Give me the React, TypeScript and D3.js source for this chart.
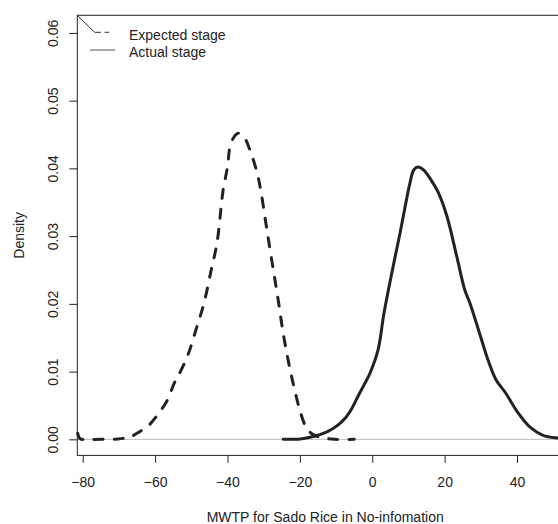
import React, { useEffect, useRef } from "react";
import * as d3 from "d3";

// density estimates
const expectedX = [-81.4, -80.7, -78, -74.4, -70.2, -68.3, -66.3, -64.4, -61.7, -59.2, -56.7, -54.8, -53.1, -50.9, -48.7, -46.5, -44.5, -42.9, -41.2, -40.0, -39.2, -38.1, -37.1, -35.4, -33.8, -31.8, -30.7, -29.3, -27.7, -26.0, -24.4, -22.7, -21.3, -19.9, -18.3, -16.6, -14.4, -10.3, -5.0];
const expectedY = [0.0009, 0.0001, 0.0, 0.0, 0.00005, 0.0002, 0.0005, 0.0011, 0.0021, 0.0037, 0.0057, 0.0082, 0.0099, 0.0125, 0.0162, 0.0201, 0.025, 0.029, 0.0368, 0.0402, 0.0435, 0.0447, 0.0452, 0.0446, 0.0427, 0.0393, 0.0364, 0.0316, 0.0262, 0.0206, 0.015, 0.0103, 0.007, 0.0041, 0.0018, 0.0008, 0.0003, 0.0, 0.0];

const actualX = [-24.6, -19.9, -17.2, -12.5, -9.5, -7.5, -5.6, -3.9, -2.3, -0.6, 1.6, 3.3, 6.3, 7.7, 9.1, 10.4, 11.5, 12.7, 14.3, 16.0, 18.2, 20.6, 23.4, 25.6, 27.0, 29.8, 32.0, 34.2, 36.9, 40.3, 43.6, 47.2, 51.1, 55.0];
const actualY = [0.0, 0.00005, 0.0003, 0.0011, 0.0021, 0.0031, 0.0046, 0.0064, 0.008, 0.0098, 0.0132, 0.0188, 0.0269, 0.0305, 0.0344, 0.0378, 0.0398, 0.0402, 0.0397, 0.0385, 0.0365, 0.033, 0.0269, 0.022, 0.0201, 0.0154, 0.0117, 0.0088, 0.0068, 0.0039, 0.0018, 0.0006, 0.0002, 0.0001];

const xTicks = [-80, -60, -40, -20, 0, 20, 40];
const yTicks = [0, 0.01, 0.02, 0.03, 0.04, 0.05, 0.06];
const legendLabels = ["Expected stage", "Actual stage"];

const FONT = "'Liberation Sans', Arial, sans-serif";

export default function App() {
  const ref = useRef<SVGSVGElement>(null);

  useEffect(() => {
    const svg = d3.select(ref.current);
    svg.selectAll("*").remove();

    const left = 77.3, top = 15.3, right = 573.1, bottom = 455.4;
    const x = d3.scaleLinear().domain([-81.5, 55.5]).range([left, right]);
    const y = d3.scaleLinear().domain([-0.00237, 0.0626]).range([bottom, top]);

    // zero reference line
    svg
      .append("line")
      .attr("x1", left)
      .attr("x2", 558)
      .attr("y1", y(0))
      .attr("y2", y(0))
      .attr("stroke", "#bdbdbd")
      .attr("stroke-width", 1);

    const line = d3
      .line<number>()
      .x((d) => x(d))
      .curve(d3.curveCatmullRom.alpha(0.5));

    svg
      .append("path")
      .attr("d", line.y((_, i) => y(expectedY[i]))(expectedX))
      .attr("fill", "none")
      .attr("stroke", "#222")
      .attr("stroke-width", 3)
      .attr("stroke-linecap", "round")
      .attr("stroke-dasharray", "9 11");

    svg
      .append("path")
      .attr("d", line.y((_, i) => y(actualY[i]))(actualX))
      .attr("fill", "none")
      .attr("stroke", "#222")
      .attr("stroke-width", 3)
      .attr("stroke-linecap", "round");

    // box (right side falls outside the picture)
    svg
      .append("rect")
      .attr("x", left)
      .attr("y", top)
      .attr("width", right - left)
      .attr("height", bottom - top)
      .attr("fill", "none")
      .attr("stroke", "#222")
      .attr("stroke-width", 1);

    const xAxis = svg
      .append("g")
      .attr("transform", "translate(0," + (bottom + 0.5) + ")")
      .call(d3.axisBottom(x).tickValues(xTicks).tickSize(7).tickPadding(14).tickFormat(d3.format("d")));
    xAxis.select(".domain").remove();
    xAxis.selectAll("line").attr("stroke", "#222");
    xAxis.selectAll("text").attr("font-family", FONT).attr("font-size", 14).attr("fill", "#222");

    const yAxis = svg
      .append("g")
      .attr("transform", "translate(" + left + ",0)")
      .call(d3.axisLeft(y).tickValues(yTicks).tickSize(8).tickFormat(d3.format(".2f")));
    yAxis.select(".domain").remove();
    yAxis.selectAll("line").attr("stroke", "#222");
    yAxis
      .selectAll("text")
      .attr("x", null)
      .attr("dy", "0.35em")
      .attr("transform", "translate(-24,0) rotate(-90)")
      .attr("text-anchor", "middle")
      .attr("font-family", FONT)
      .attr("font-size", 14)
      .attr("fill", "#222");

    // axis titles
    svg
      .append("text")
      .attr("x", (left + right) / 2)
      .attr("y", 521.5)
      .attr("text-anchor", "middle")
      .attr("font-family", FONT)
      .attr("font-size", 14)
      .attr("fill", "#222")
      .text("MWTP for Sado Rice in No-infomation");

    svg
      .append("text")
      .attr("transform", "translate(24.3," + (top + bottom) / 2 + ") rotate(-90)")
      .attr("text-anchor", "middle")
      .attr("font-family", FONT)
      .attr("font-size", 14)
      .attr("fill", "#222")
      .text("Density");

    // legend
    const lg = svg.append("g");
    lg.append("line")
      .attr("x1", left).attr("y1", top).attr("x2", 94.5).attr("y2", 32.3)
      .attr("stroke", "#333").attr("stroke-width", 1);
    lg.append("line")
      .attr("x1", 95).attr("y1", 32.3).attr("x2", 109).attr("y2", 32.3)
      .attr("stroke", "#333").attr("stroke-width", 1).attr("stroke-dasharray", "6 3.5");
    lg.append("line")
      .attr("x1", 90).attr("y1", 50).attr("x2", 115).attr("y2", 50)
      .attr("stroke", "#555").attr("stroke-width", 1);
    lg.selectAll("text.lab")
      .data(legendLabels)
      .enter()
      .append("text")
      .attr("class", "lab")
      .attr("x", 129)
      .attr("y", (_, i) => 40 + i * 16.5)
      .attr("font-family", FONT)
      .attr("font-size", 14)
      .attr("fill", "#222")
      .text((d) => d);
  }, []);

  return (
    <svg
      ref={ref}
      width={558}
      height={524}
      style={{ position: "absolute", left: 0, top: 0, background: "#fff" }}
    />
  );
}
